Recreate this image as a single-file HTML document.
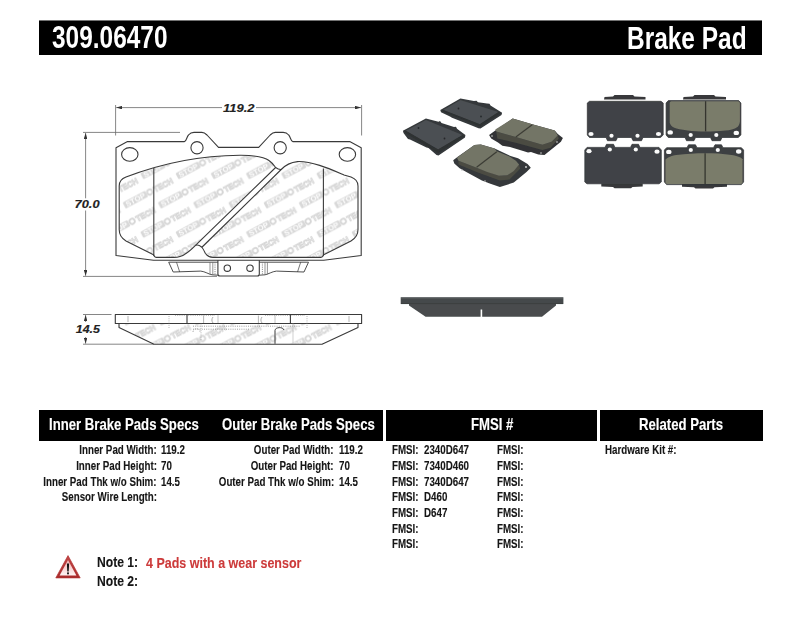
<!DOCTYPE html>
<html><head><meta charset="utf-8">
<style>
html,body{margin:0;padding:0;background:#fff}
body{width:800px;height:619px;position:relative;overflow:hidden;font-family:"Liberation Sans",sans-serif}
.bar{position:absolute;background:#000}
.t{position:absolute;white-space:nowrap;font-weight:bold;line-height:1;transform-origin:0 0;color:#151515}
.w{color:#fff}
svg{position:absolute;left:0;top:0}
</style></head><body>
<svg width="800" height="619" viewBox="0 0 800 619" style="position:absolute;left:0;top:0">
<defs>
  <g id="logo">
    <rect x="0" y="-3.1" width="23" height="6.2" rx="1" fill="#d8d8d8"/>
    <text x="2" y="2.3" font-family="Liberation Sans" font-weight="bold" font-size="6.6" fill="#fff" textLength="19" lengthAdjust="spacingAndGlyphs">STOP</text>
    <circle cx="26.3" cy="0" r="3.2" fill="#d6d6d6"/><circle cx="26.3" cy="0" r="1.6" fill="#fff"/>
    <text x="30.5" y="2.8" font-family="Liberation Sans" font-weight="bold" font-size="7.4" fill="#fff" stroke="#d4d4d4" stroke-width="0.8" textLength="19" lengthAdjust="spacingAndGlyphs">TECH</text>
  </g>
  <pattern id="wm" patternUnits="userSpaceOnUse" width="35.2" height="58.6" x="124.2" y="120.0">
    <use href="#logo" transform="translate(-35.2,-31.6) rotate(-28) scale(1.1)"/>
    <use href="#logo" transform="translate(-35.2,27.0) rotate(-28) scale(1.1)"/>
    <use href="#logo" transform="translate(-35.2,85.6) rotate(-28) scale(1.1)"/>
    <use href="#logo" transform="translate(0.0,-31.6) rotate(-28) scale(1.1)"/>
    <use href="#logo" transform="translate(0.0,27.0) rotate(-28) scale(1.1)"/>
    <use href="#logo" transform="translate(0.0,85.6) rotate(-28) scale(1.1)"/>
    <use href="#logo" transform="translate(35.2,-31.6) rotate(-28) scale(1.1)"/>
    <use href="#logo" transform="translate(35.2,27.0) rotate(-28) scale(1.1)"/>
    <use href="#logo" transform="translate(35.2,85.6) rotate(-28) scale(1.1)"/>
    <use href="#logo" transform="translate(-17.6,-2.3) rotate(-28) scale(1.1)"/>
    <use href="#logo" transform="translate(-17.6,56.3) rotate(-28) scale(1.1)"/>
    <use href="#logo" transform="translate(-17.6,114.9) rotate(-28) scale(1.1)"/>
    <use href="#logo" transform="translate(17.6,-2.3) rotate(-28) scale(1.1)"/>
    <use href="#logo" transform="translate(17.6,56.3) rotate(-28) scale(1.1)"/>
    <use href="#logo" transform="translate(17.6,114.9) rotate(-28) scale(1.1)"/>
    <use href="#logo" transform="translate(52.8,-2.3) rotate(-28) scale(1.1)"/>
    <use href="#logo" transform="translate(52.8,56.3) rotate(-28) scale(1.1)"/>
    <use href="#logo" transform="translate(52.8,114.9) rotate(-28) scale(1.1)"/>
  </pattern>
  <marker id="ar" viewBox="0 0 10 6" refX="10" refY="3" markerWidth="6" markerHeight="3.6" orient="auto-start-reverse" markerUnits="userSpaceOnUse">
    <path d="M0,0 L10,3 L0,6 Z" fill="#333"/>
  </marker>
</defs>
<g fill="none" stroke="#3a3a3a" stroke-width="1.1" stroke-linejoin="round">
  <!-- friction pieces with watermark -->
  <path d="M119.2,186 C119.2,181 121.5,178.8 126,177.1 C160,164 200,155.5 240,155.3 C256,155.2 265,157.5 269,160.5 C272.5,163 274,165.5 275.6,167.5 L195.5,245.4 C191,250 185.5,255 180,256.5 C178,257.2 176,257.4 174,257.4 L156,257.4 C155,257.4 154,256 153.5,254.7 L126,240.9 C121.5,238.5 119.2,235 119.2,229.6 Z" fill="url(#wm)"/>
  <path d="M281.2,169.5 C284,166.5 289,162.5 297.5,161.6 C312,161 330,169 344,174.9 L351,177.1 C355.5,178.8 358,181 358,186 L358,229.6 C358,235 355.5,238.5 351,240.9 L323.7,254.7 C323,256.5 322,257.4 321,257.4 L213,257.4 C209,257.4 206.5,255 205.3,253.25 C204,250.5 203,248.5 201.9,247.25 Z" fill="url(#wm)"/>
  <path d="M275.6,167.5 C277.5,169 279.5,169.6 281.2,169.5"/>
  <path d="M195.5,245.4 C196.5,244.8 199,244.8 201.9,247.25"/>
  <path d="M153.8,168 L153.8,256"/>
  <path d="M323.4,168.5 L323.4,256"/>
  <!-- backing plate outline -->
  <path d="M116,147.75 L127.5,141.6 L184.4,141.6 C186.5,141.6 186.5,137 188.5,135 C190,133.2 191.5,132.35 194,132.35 L201.9,132.35 C204,132.35 205.5,133.5 207,135 L218.5,147.4 L258.7,147.4 L270.2,135 C271.7,133.5 273.2,132.35 275.3,132.35 L283.2,132.35 C285.7,132.35 287.2,133.2 288.7,135 C290.7,137 290.7,141.6 292.8,141.6 L349.7,141.6 L361.2,147.75 L361.2,255.5 L323.7,260.3 L153.5,260.3 L116,255.5 Z"/>
  <ellipse cx="129.8" cy="154.4" rx="8.2" ry="6.8"/>
  <ellipse cx="347.4" cy="154.4" rx="8.2" ry="6.8"/>
  <circle cx="197" cy="147.75" r="6.1"/>
  <circle cx="280.2" cy="147.75" r="6.1"/>
  <!-- center block -->
  <path d="M217.9,260.3 L217.9,274 Q217.9,276 220,276 L257.3,276 Q259.3,276 259.3,274 L259.3,260.3"/>
  <circle cx="227.3" cy="268.2" r="3.2"/>
  <circle cx="250" cy="268.2" r="3.2"/>
  <!-- tabs -->
  <path d="M217.9,262.2 L168.7,262.2 L173.2,272 L200.8,271.1 C205,271.5 209,274.4 212.2,274.8 L217.9,275.2" stroke-width="0.9"/>
  <path d="M176.5,262.2 L179.7,272" stroke-width="0.7"/>
  <path d="M210,262.2 L210,274.6 M212.8,262.2 L212.8,275" stroke-width="0.7" stroke="#666"/>
  <path d="M215,262.2 L215,275.2" stroke-width="0.8" stroke="#777" stroke-dasharray="1.2,1"/>
  <path d="M259.3,262.2 L308.5,262.2 L304,272 L276.4,271.1 C272,271.5 268,274.4 265,274.8 L259.3,275.2" stroke-width="0.9"/>
  <path d="M300.7,262.2 L297.5,272" stroke-width="0.7"/>
  <path d="M265,262.2 L265,274.6 M267.4,262.2 L267.4,274.4" stroke-width="0.7" stroke="#666"/>
  <path d="M262.4,262.2 L262.4,275.2" stroke-width="0.8" stroke="#777" stroke-dasharray="1.2,1"/>
</g>
<!-- dimension lines -->
<g stroke="#707070" stroke-width="0.85" fill="none">
  <path d="M115.6,105 L115.6,135.5 M361.6,105 L361.6,135.5"/>
  <path d="M222,107.6 L116.2,107.6" marker-end="url(#ar)"/>
  <path d="M256,107.6 L361,107.6" marker-end="url(#ar)"/>
  <path d="M83,132.4 L180,132.4 M83,276.4 L217,276.4"/>
  <path d="M85.6,198.3 L85.6,133" marker-end="url(#ar)"/>
  <path d="M85.6,210.5 L85.6,275.8" marker-end="url(#ar)"/>
  <!-- side view dims -->
  <path d="M83,314.5 L111.5,314.5 M83,344.2 L154,344.2"/>
  <path d="M85.6,322 L85.6,315.1" marker-end="url(#ar)"/>
  <path d="M85.6,337 L85.6,343.6" marker-end="url(#ar)"/>
</g>
<g font-family="Liberation Sans" font-weight="bold" font-style="italic" font-size="10.4" fill="#222" stroke="#222" stroke-width="0.15">
  <text x="223" y="111.9" textLength="31.5" lengthAdjust="spacingAndGlyphs">119.2</text>
  <text x="74.6" y="208.2" textLength="25" lengthAdjust="spacingAndGlyphs">70.0</text>
  <text x="75.8" y="333.4" textLength="24.2" lengthAdjust="spacingAndGlyphs">14.5</text>
</g>
<!-- side view -->
<g fill="none" stroke="#3a3a3a" stroke-width="1.1" stroke-linejoin="round">
  <path d="M119,323.5 L119,327.5 L154,344.2 L322,344.2 L358,327.5 L358,323.5 Z" fill="url(#wm)"/>
  <rect x="115.3" y="314.5" width="246.3" height="9"/>
  <path d="M187,314.5 L187,323.5 M290.4,314.5 L290.4,323.5" />
  <path d="M128,316 L128,322 M203.6,315.5 L203.6,323 M258.4,315.5 L258.4,323 M349,316 L349,322" stroke="#999" stroke-width="0.7"/>
  <path d="M275,343.8 L275,330.5 C275,327 283,326.5 284,330" stroke-width="1"/>
  <path d="M193,326.2 L300,326.2 M193,329.2 L250,329.2" stroke="#777" stroke-width="0.7" stroke-dasharray="1,1.2"/>
  <path d="M218,315 L218,323 M275,315 L275,323" stroke="#aaa" stroke-width="0.7"/>
  <path d="M293,323.5 L293,344" stroke="#bbb" stroke-width="0.7"/>
  <path d="M169,316 L169,329 M201,323.5 L201,340 M307,316 L307,329 M175,315.4 L215,315.4 M265,315.4 L305,315.4" stroke="#888" stroke-width="0.6" stroke-dasharray="1,1.2"/>
  <path d="M213,323 C211.5,321 211.5,319 213,317 M262,323 C260.5,321 260.5,319 262,317" stroke="#888" stroke-width="0.7"/>
  <path d="M193,332 C193,327.5 200,327.5 200,332" stroke="#888" stroke-width="0.7" stroke-dasharray="1,1"/>
</g>
</svg>
<svg width="800" height="619" viewBox="0 0 800 619" style="position:absolute;left:0;top:0">
<defs>
  <filter id="bl" x="-5%" y="-5%" width="110%" height="110%"><feGaussianBlur stdDeviation="0.45"/></filter>
</defs>
<g filter="url(#bl)">
  <!-- pad 1: top back plate -->
  <path d="M440.3,110 L460.4,98.5 L474,101 L476.5,100.8 L478,102.3 L487,103.5 L489.5,103.8 L490.5,105.5 L502.1,112.8 L501.5,115 L480.5,128.5 L478.5,128.3 L468,124 L466,123.2 L452,117.8 L450,116.5 L441,112.2 Z" fill="#34383a"/>
  <path d="M443.2,110 L460.4,99.9 L498.5,112.1 L479.8,124.3 Z" fill="#4b4f52"/>
  <path d="M441.5,111 L443.2,110 L479.8,124.3 L498.5,112.1 L501,113 L480,126.5 Z" fill="#2d3032"/>
  <circle cx="458.5" cy="108.5" r="0.9" fill="#25282a"/>
  <circle cx="481" cy="116.5" r="0.9" fill="#25282a"/>
  <!-- pad 2: left back plate -->
  <path d="M402.9,130.8 L425.9,118.6 L438.5,121.8 L440,121 L441.5,123 L454,127 L456,126.8 L457,128.8 L465.4,135.1 L465,137.5 L438.5,155.5 L436.5,155 L428.5,148 L426.5,147.5 L410,139.5 L408,139 L403.5,133 Z" fill="#34383a"/>
  <path d="M405.8,130.8 L425.9,120 L462.6,135.1 L438.1,149.5 Z" fill="#4b4f52"/>
  <path d="M404,132 L405.8,130.8 L438.1,149.5 L462.6,135.1 L464.5,136.2 L438.3,153 Z" fill="#2d3032"/>
  <circle cx="418.5" cy="128" r="0.9" fill="#25282a"/>
  <circle cx="444.5" cy="138.5" r="0.9" fill="#25282a"/>
  <!-- pad 3: right friction up -->
  <path d="M489.1,135 L495.3,130.4 L512.7,118.6 L532.2,124.2 L554.7,130.4 L557.8,134 L562.9,138.1 L560.9,141.7 L544.5,155 L538.3,154.5 L531,152 L528,152.5 L519.9,149.9 L510,147 L502.4,145.8 L498,142.5 L491.2,138.6 Z" fill="#303335"/>
  <path d="M496.3,131.4 L515.8,137 L542.4,144.7 L551.6,141.7 L557.8,135.5 L558.8,138.6 L550.6,147.8 L542.4,149.9 L515.8,142.7 L497.3,138.6 Z" fill="#4b4c43"/>
  <path d="M495.3,129.4 L512.7,118.6 L532.2,124.2 L554.7,130.4 L557.8,135.5 L551.6,141.7 L542.4,144.7 L515.8,137 L496.3,131.4 Z" fill="#737466"/>
  <path d="M532.2,124.7 L515.8,137" stroke="#3b3c35" stroke-width="1.2" fill="none"/>
  <circle cx="492" cy="136" r="0.8" fill="#ddd"/>
  <circle cx="557" cy="142" r="0.8" fill="#ddd"/>
  <circle cx="541" cy="153" r="0.8" fill="#ccc"/>
  <!-- pad 4: bottom friction up -->
  <path d="M453.2,160.3 L457.4,157.1 L474.4,144.9 L480.8,144.4 L494.6,148.6 L510.6,156.1 L518,158.2 L527.6,164 L530.8,167.8 L526.5,172 L513.8,182.6 L499.9,186.9 L490.4,183.7 L481.9,180.5 L468.1,173.1 L459.6,168.3 L454.3,163.5 Z" fill="#34383a"/>
  <path d="M458.5,160.8 L476.6,167.8 L498.9,175.7 L507.4,175.2 L519.1,164.6 L520.1,168.8 L509.5,179.4 L499.9,180.5 L476.6,172 L458.5,164.6 Z" fill="#4b4c43"/>
  <path d="M456.9,157.7 L474.4,144.9 L480.8,144.4 L494.6,148.6 L496.8,151.3 L509.5,156.6 L515.9,160.8 L519.1,164.6 L513.8,170.9 L507.4,175.2 L498.9,175.7 L487.2,172 L476.6,167.8 L458.5,160.8 Z" fill="#737466"/>
  <path d="M496.8,151.8 L476.6,167.2" stroke="#3b3c35" stroke-width="1.2" fill="none"/>
  <circle cx="526" cy="167" r="0.9" fill="#ddd"/>
  <circle cx="462" cy="170" r="0.8" fill="#bbb"/>
  <circle cx="485" cy="181" r="0.8" fill="#bbb"/>

  <!-- right group: TL backing -->
  <path d="M604,99.5 L604.5,97 L613,96.5 L614.5,95 L633,95 L634.5,96.5 L645.5,97 L645.5,99.5 Z" fill="#37393b"/>
  <path d="M587.3,103 L589.5,101.3 L661,101.3 L663.2,103 L663.2,135 L660.5,137.5 L643,137.5 L641.5,140.7 L633,140.7 L631.5,137.5 L617.5,137.5 L616,140.7 L607.5,140.7 L606,137.5 L589.5,137.5 L587.3,135 Z" fill="#404347" stroke="#2e3133" stroke-width="0.7"/>
  <ellipse cx="591" cy="134" rx="2.6" ry="2.1" fill="#fbfbfb"/>
  <ellipse cx="611.5" cy="135.8" rx="2.1" ry="2.0" fill="#fbfbfb"/>
  <ellipse cx="637.5" cy="135.8" rx="2.1" ry="2.0" fill="#fbfbfb"/>
  <ellipse cx="658.5" cy="134" rx="2.6" ry="2.1" fill="#fbfbfb"/>
  <!-- TR friction -->
  <path d="M683,99.5 L683.5,97 L693,96.5 L694.5,95 L714,95 L715.5,96.5 L726,97 L726,99.5 Z" fill="#37393b"/>
  <path d="M666.1,103 L668.3,100.6 L738.7,100.6 L740.9,103 L740.9,135 L738.2,137.5 L722,137.5 L720.5,140.7 L712,140.7 L710.5,137.5 L695.5,137.5 L694,140.7 L686.5,140.7 L685,137.5 L668.3,137.5 L666.1,135 Z" fill="#3d4042" stroke="#2e3133" stroke-width="0.7"/>
  <path d="M669.7,103 Q669.7,101.2 671.5,101.2 L738,101.2 Q739.9,101.2 739.9,103 L739.9,121.7 C739.5,124.5 738.5,126 737.8,126.8 C734,129.5 730,130.3 725.5,130.4 C718,131.2 712,131.4 706,131.4 C699,131.4 693,131 687.6,130.4 C681,129.8 677,129 674.3,127.8 C671.5,126.3 670.2,124.5 669.7,122.7 Z" fill="#7a7b6b"/>
  <path d="M705.6,101.2 L705.6,131.4" stroke="#34362f" stroke-width="1.3" fill="none"/>
  <ellipse cx="670.2" cy="132.4" rx="2.7" ry="2.2" fill="#fbfbfb"/>
  <ellipse cx="690.7" cy="135" rx="2.1" ry="2.0" fill="#fbfbfb"/>
  <ellipse cx="716.3" cy="135" rx="2.1" ry="2.0" fill="#fbfbfb"/>
  <ellipse cx="736.3" cy="132.9" rx="2.7" ry="2.2" fill="#fbfbfb"/>
  <!-- BL backing -->
  <path d="M601.3,183.6 L601.3,186.5 L613,187 L614.5,188.3 L631,188.3 L632.5,187 L642.7,186.5 L642.7,183.6 Z" fill="#37393b"/>
  <path d="M584.8,182 L587,183.8 L659.1,183.8 L661.3,182 L661.3,150 L659,147.4 L640,147.4 L638.5,144.3 L632,144.3 L630.5,147.4 L615,147.4 L613.5,144.3 L606.5,144.3 L605,147.4 L587,147.4 L584.8,150 Z" fill="#404347" stroke="#2e3133" stroke-width="0.7"/>
  <ellipse cx="589" cy="151.2" rx="2.6" ry="2.1" fill="#fbfbfb"/>
  <ellipse cx="609.8" cy="149.4" rx="2.1" ry="2.0" fill="#fbfbfb"/>
  <ellipse cx="635.8" cy="149.4" rx="2.1" ry="2.0" fill="#fbfbfb"/>
  <ellipse cx="657" cy="151.7" rx="2.6" ry="2.1" fill="#fbfbfb"/>
  <!-- BR friction -->
  <path d="M682,184 L682,186.8 L694,187.3 L695.5,188.5 L713,188.5 L714.5,187.3 L727,186.8 L727,184 Z" fill="#37393b"/>
  <path d="M664.4,182 L666.6,184.6 L741.4,184.6 L743.6,182 L743.6,150 L741.4,147.7 L723,147.7 L721.5,144.8 L715,144.8 L713.5,147.7 L697,147.7 L695.5,144.8 L688.5,144.8 L687,147.7 L666.6,147.7 L664.4,150 Z" fill="#3e4143" stroke="#2e3133" stroke-width="0.7"/>
  <path d="M665.5,182.2 Q665.5,184 667.3,184 L740.7,184 Q742.5,184 742.5,182.2 L742.5,159.25 C741,157 737,155.8 731.5,154.9 C723,153.6 714,153.2 705,153.2 C696,153.2 686,153.8 676.5,154.9 C671,155.7 667,157.5 665.5,159.8 Z" fill="#7a7b6b"/>
  <path d="M705.1,153.2 L705.1,184" stroke="#34362f" stroke-width="1.3" fill="none"/>
  <ellipse cx="668.8" cy="151.9" rx="2.7" ry="2.2" fill="#fbfbfb"/>
  <ellipse cx="690.8" cy="149.9" rx="2.1" ry="2.0" fill="#fbfbfb"/>
  <ellipse cx="717.8" cy="149.9" rx="2.1" ry="2.0" fill="#fbfbfb"/>
  <ellipse cx="738.7" cy="151.55" rx="2.7" ry="2.2" fill="#fbfbfb"/>

  <!-- side photo -->
  <path d="M400.7,297.2 L563.4,297.2 L563.4,304 L400.7,304 Z" fill="#45494b"/>
  <path d="M409,303.8 L556,303.8 L556,305.5 L542,316.8 L482.2,316.8 L482.2,309.5 L480.6,309.5 L480.6,316.8 L425.6,316.8 L409,305.5 Z" fill="#484c4d"/>
  <path d="M401,298.2 L563,298.2" stroke="#5c6062" stroke-width="0.8"/><path d="M401,303.6 L563,303.6" stroke="#383b3d" stroke-width="0.7"/>
</g>
</svg>
<div class="bar" style="left:39px;top:21px;width:723px;height:34px;box-shadow:0 -1px 0 rgba(0,0,0,0.55)"></div>
<div class="bar" style="left:39px;top:410px;width:344px;height:31px"></div>
<div class="bar" style="left:386px;top:410px;width:211px;height:31px"></div>
<div class="bar" style="left:600px;top:410px;width:163px;height:31px"></div>
<div class="t w" style="left:51.80px;top:22.00px;font-size:31.5px;transform:scaleX(0.7758);">309.06470</div>
<div class="t w" style="left:626.80px;top:23.00px;font-size:31.5px;transform:scaleX(0.7762);">Brake Pad</div>
<div class="t w" style="left:49.00px;top:417.00px;font-size:16.7px;transform:scaleX(0.7880);-webkit-text-stroke:0.15px currentColor;">Inner Brake Pads Specs</div>
<div class="t w" style="left:222.00px;top:417.00px;font-size:16.7px;transform:scaleX(0.7880);-webkit-text-stroke:0.15px currentColor;">Outer Brake Pads Specs</div>
<div class="t w" style="left:470.50px;top:417.00px;font-size:16.7px;transform:scaleX(0.7880);-webkit-text-stroke:0.15px currentColor;">FMSI #</div>
<div class="t w" style="left:639.00px;top:417.00px;font-size:16.7px;transform:scaleX(0.7880);-webkit-text-stroke:0.15px currentColor;">Related Parts</div>
<div class="t " style="right:643.30px;top:444.00px;font-size:12.2px;transform:scaleX(0.8003);transform-origin:100% 0;-webkit-text-stroke:0.12px currentColor;">Inner Pad Width:</div>
<div class="t " style="right:643.30px;top:460.00px;font-size:12.2px;transform:scaleX(0.8003);transform-origin:100% 0;-webkit-text-stroke:0.12px currentColor;">Inner Pad Height:</div>
<div class="t " style="right:643.30px;top:476.00px;font-size:12.2px;transform:scaleX(0.8003);transform-origin:100% 0;-webkit-text-stroke:0.12px currentColor;">Inner Pad Thk w/o Shim:</div>
<div class="t " style="right:643.30px;top:491.00px;font-size:12.2px;transform:scaleX(0.8003);transform-origin:100% 0;-webkit-text-stroke:0.12px currentColor;">Sensor Wire Length:</div>
<div class="t " style="left:161.20px;top:444.00px;font-size:12.2px;transform:scaleX(0.8003);-webkit-text-stroke:0.12px currentColor;">119.2</div>
<div class="t " style="left:161.20px;top:460.00px;font-size:12.2px;transform:scaleX(0.8003);-webkit-text-stroke:0.12px currentColor;">70</div>
<div class="t " style="left:161.20px;top:476.00px;font-size:12.2px;transform:scaleX(0.8003);-webkit-text-stroke:0.12px currentColor;">14.5</div>
<div class="t " style="right:466.20px;top:444.00px;font-size:12.2px;transform:scaleX(0.8003);transform-origin:100% 0;-webkit-text-stroke:0.12px currentColor;">Outer Pad Width:</div>
<div class="t " style="right:466.20px;top:460.00px;font-size:12.2px;transform:scaleX(0.8003);transform-origin:100% 0;-webkit-text-stroke:0.12px currentColor;">Outer Pad Height:</div>
<div class="t " style="right:466.20px;top:476.00px;font-size:12.2px;transform:scaleX(0.8003);transform-origin:100% 0;-webkit-text-stroke:0.12px currentColor;">Outer Pad Thk w/o Shim:</div>
<div class="t " style="left:338.90px;top:444.00px;font-size:12.2px;transform:scaleX(0.8003);-webkit-text-stroke:0.12px currentColor;">119.2</div>
<div class="t " style="left:338.90px;top:460.00px;font-size:12.2px;transform:scaleX(0.8003);-webkit-text-stroke:0.12px currentColor;">70</div>
<div class="t " style="left:338.90px;top:476.00px;font-size:12.2px;transform:scaleX(0.8003);-webkit-text-stroke:0.12px currentColor;">14.5</div>
<div class="t " style="left:392.40px;top:444.00px;font-size:12.2px;transform:scaleX(0.8003);-webkit-text-stroke:0.12px currentColor;">FMSI:</div>
<div class="t " style="left:496.70px;top:444.00px;font-size:12.2px;transform:scaleX(0.8003);-webkit-text-stroke:0.12px currentColor;">FMSI:</div>
<div class="t " style="left:392.40px;top:460.00px;font-size:12.2px;transform:scaleX(0.8003);-webkit-text-stroke:0.12px currentColor;">FMSI:</div>
<div class="t " style="left:496.70px;top:460.00px;font-size:12.2px;transform:scaleX(0.8003);-webkit-text-stroke:0.12px currentColor;">FMSI:</div>
<div class="t " style="left:392.40px;top:476.00px;font-size:12.2px;transform:scaleX(0.8003);-webkit-text-stroke:0.12px currentColor;">FMSI:</div>
<div class="t " style="left:496.70px;top:476.00px;font-size:12.2px;transform:scaleX(0.8003);-webkit-text-stroke:0.12px currentColor;">FMSI:</div>
<div class="t " style="left:392.40px;top:491.00px;font-size:12.2px;transform:scaleX(0.8003);-webkit-text-stroke:0.12px currentColor;">FMSI:</div>
<div class="t " style="left:496.70px;top:491.00px;font-size:12.2px;transform:scaleX(0.8003);-webkit-text-stroke:0.12px currentColor;">FMSI:</div>
<div class="t " style="left:392.40px;top:507.00px;font-size:12.2px;transform:scaleX(0.8003);-webkit-text-stroke:0.12px currentColor;">FMSI:</div>
<div class="t " style="left:496.70px;top:507.00px;font-size:12.2px;transform:scaleX(0.8003);-webkit-text-stroke:0.12px currentColor;">FMSI:</div>
<div class="t " style="left:392.40px;top:523.00px;font-size:12.2px;transform:scaleX(0.8003);-webkit-text-stroke:0.12px currentColor;">FMSI:</div>
<div class="t " style="left:496.70px;top:523.00px;font-size:12.2px;transform:scaleX(0.8003);-webkit-text-stroke:0.12px currentColor;">FMSI:</div>
<div class="t " style="left:392.40px;top:538.00px;font-size:12.2px;transform:scaleX(0.8003);-webkit-text-stroke:0.12px currentColor;">FMSI:</div>
<div class="t " style="left:496.70px;top:538.00px;font-size:12.2px;transform:scaleX(0.8003);-webkit-text-stroke:0.12px currentColor;">FMSI:</div>
<div class="t " style="left:423.90px;top:444.00px;font-size:12.2px;transform:scaleX(0.8003);-webkit-text-stroke:0.12px currentColor;">2340D647</div>
<div class="t " style="left:423.90px;top:460.00px;font-size:12.2px;transform:scaleX(0.8003);-webkit-text-stroke:0.12px currentColor;">7340D460</div>
<div class="t " style="left:423.90px;top:476.00px;font-size:12.2px;transform:scaleX(0.8003);-webkit-text-stroke:0.12px currentColor;">7340D647</div>
<div class="t " style="left:423.90px;top:491.00px;font-size:12.2px;transform:scaleX(0.8003);-webkit-text-stroke:0.12px currentColor;">D460</div>
<div class="t " style="left:423.90px;top:507.00px;font-size:12.2px;transform:scaleX(0.8003);-webkit-text-stroke:0.12px currentColor;">D647</div>
<div class="t " style="left:604.70px;top:444.00px;font-size:12.2px;transform:scaleX(0.8003);-webkit-text-stroke:0.12px currentColor;">Hardware Kit #:</div>
<div class="t " style="left:96.60px;top:555.00px;font-size:14.2px;transform:scaleX(0.8561);-webkit-text-stroke:0.12px currentColor;">Note 1:</div>
<div class="t " style="left:96.60px;top:574.00px;font-size:14.2px;transform:scaleX(0.8561);-webkit-text-stroke:0.12px currentColor;">Note 2:</div>
<div class="t " style="left:145.80px;top:556.00px;font-size:14.2px;transform:scaleX(0.8797);color:#cc3a3a;-webkit-text-stroke:0.1px currentColor;">4 Pads with a wear sensor</div>
<svg width="800" height="619" viewBox="0 0 800 619">
  <defs><linearGradient id="tg" x1="0" y1="0" x2="0" y2="1"><stop offset="0" stop-color="#f2b5b5"/><stop offset="1" stop-color="#fdf3f3"/></linearGradient>
  <linearGradient id="tr" x1="0" y1="0" x2="0" y2="1"><stop offset="0" stop-color="#c44848"/><stop offset="1" stop-color="#a82a2a"/></linearGradient></defs>
  <path d="M68,555.6 L80.2,577.9 L55.8,577.9 Z" fill="url(#tr)" stroke="#b23434" stroke-width="0.7" stroke-linejoin="round"/>
  <path d="M68,560.1 L76.4,575.5 L59.6,575.5 Z" fill="url(#tg)"/>
  <path d="M66.9,563.6 L69.1,563.6 L68.7,571.4 L67.3,571.4 Z" fill="#111"/>
  <rect x="67.1" y="572.4" width="1.8" height="1.9" fill="#111"/>
</svg>
</body></html>
